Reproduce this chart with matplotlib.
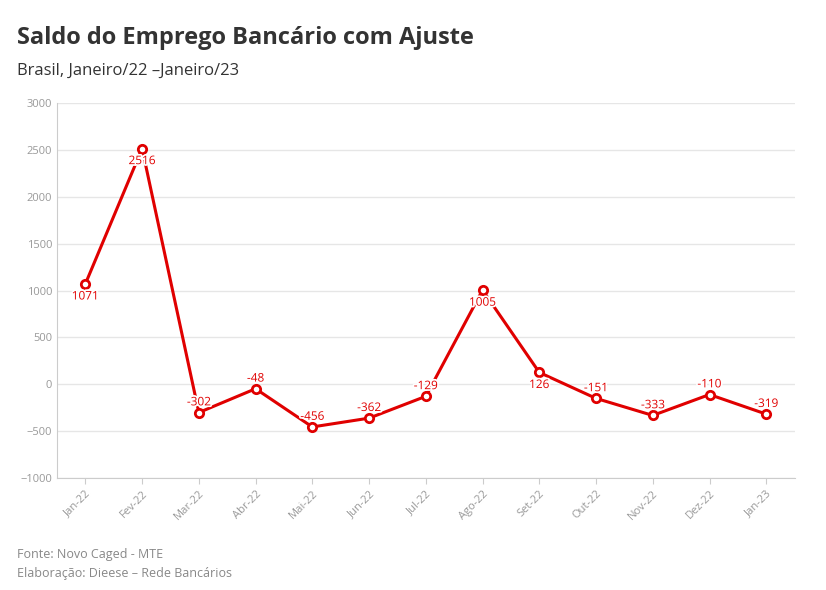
import matplotlib
matplotlib.use("Agg")
import matplotlib.pyplot as plt
import matplotlib.patheffects as pe

months = ["Jan-22","Fev-22","Mar-22","Abr-22","Mai-22","Jun-22","Jul-22","Ago-22","Set-22","Out-22","Nov-22","Dez-22","Jan-23"]
values = [1071, 2516, -302, -48, -456, -362, -129, 1005, 126, -151, -333, -110, -319]
yticks = [-1000, -500, 0, 500, 1000, 1500, 2000, 2500, 3000]

plt.rcParams["font.family"] = "Open Sans"
fig = plt.figure(figsize=(8.26, 5.9), dpi=100)
ax = fig.add_axes([0.069, 0.19, 0.893, 0.635])
red = "#e00000"
x = list(range(len(months)))
ax.plot(x, values, color=red, lw=2.2, marker="o", ms=6, mfc="white", mec=red, mew=2, zorder=3)
for xi, v in zip(x, values):
    off, va = ((0, -4), "top") if v > 0 else ((0, 3), "bottom")
    ax.annotate(str(v), (xi, v), xytext=off, textcoords="offset points", ha="center", va=va,
                color=red, fontsize=8.5, zorder=5,
                path_effects=[pe.withStroke(linewidth=2.5, foreground="white")])
ax.set_xlim(-0.5, len(months) - 0.5)
ax.set_ylim(-1000, 3000)
ax.set_yticks(yticks)
ax.set_xticks(x)
ax.set_xticklabels(months, rotation=45, ha="right", rotation_mode="anchor")
ax.tick_params(colors="#999999", labelsize=8, length=0)
ax.tick_params(axis="x", length=4, color="#cccccc")
ax.grid(axis="y", color="#e6e6e6", lw=1)
ax.set_axisbelow(True)
for s in ["top", "right"]:
    ax.spines[s].set_visible(False)
ax.spines["left"].set_color("#cccccc")
ax.spines["bottom"].set_color("#cccccc")

fig.text(0.021, 0.925, "Saldo do Emprego Bancário com Ajuste", fontsize=17, fontweight="bold", color="#333333")
fig.text(0.021, 0.873, "Brasil, Janeiro/22 –Janeiro/23", fontsize=12, color="#333333")
fig.text(0.021, 0.055, "Fonte: Novo Caged - MTE", fontsize=9, color="#888888")
fig.text(0.021, 0.022, "Elaboração: Dieese – Rede Bancários", fontsize=9, color="#888888")
fig.savefig("out.png", dpi=100, facecolor="white")
